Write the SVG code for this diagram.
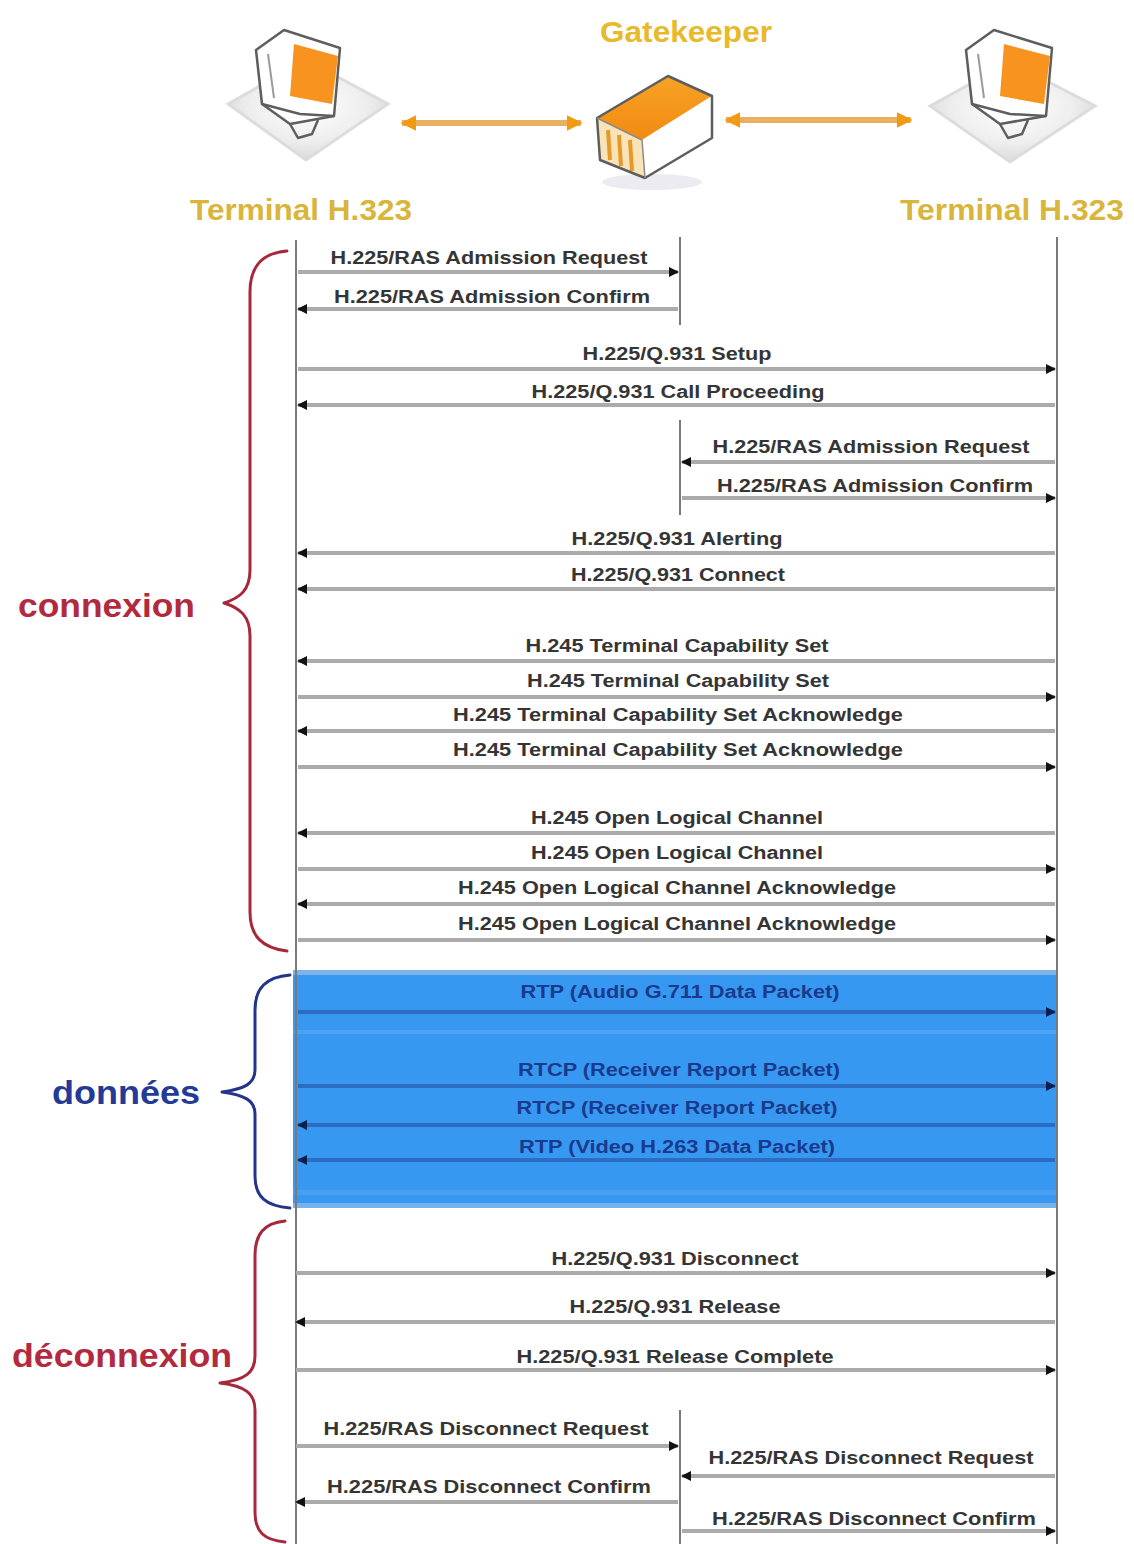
<svg xmlns="http://www.w3.org/2000/svg" width="1134" height="1544" viewBox="0 0 1134 1544">
  <style>
    .life { stroke: #7a7a7a; stroke-width: 2; fill: none; }
    .msg { stroke: #ababab; stroke-width: 4; fill: none; marker-end: url(#head); }
    .data { stroke: #2c6cc2; stroke-width: 4; fill: none; marker-end: url(#headBlue); }
    .lbl { font-family: "Liberation Sans", Arial, sans-serif; font-weight: bold; font-size: 18px; fill: #353535; text-anchor: middle; }
    .dlbl { font-family: "Liberation Sans", Arial, sans-serif; font-weight: bold; font-size: 18px; fill: #1a3a8c; text-anchor: middle; }
    .title { font-family: "Liberation Sans Narrow", "Liberation Sans", Arial, sans-serif; font-weight: bold; font-size: 30px; text-anchor: middle; }
    .phase { font-family: "Liberation Sans", Arial, sans-serif; font-weight: bold; font-size: 33px; }
    .brace { fill: none; stroke-width: 3; stroke-linecap: round; stroke-linejoin: round; }
    .outline { stroke: #5e5e5e; stroke-width: 2.5; stroke-linejoin: round; }
  </style>
  <defs>
    <marker id="head" viewBox="0 0 10 10" refX="9" refY="5" markerWidth="10" markerHeight="10" markerUnits="userSpaceOnUse" orient="auto">
      <path d="M0,0 L10,5 L0,10 z" fill="#111"/>
    </marker>
    <marker id="headBlue" viewBox="0 0 10 10" refX="9" refY="5" markerWidth="10" markerHeight="10" markerUnits="userSpaceOnUse" orient="auto">
      <path d="M0,0 L10,5 L0,10 z" fill="#0c1f4f"/>
    </marker>
    <marker id="orangeHead" viewBox="0 0 10 10" refX="9" refY="5" markerWidth="16" markerHeight="18" markerUnits="userSpaceOnUse" orient="auto-start-reverse">
      <path d="M0,0 L10,5 L0,10 z" fill="#f29a12"/>
    </marker>
    <radialGradient id="baseShade" cx="0.5" cy="0.45" r="0.6">
      <stop offset="0" stop-color="#ffffff"/>
      <stop offset="0.6" stop-color="#eeeeee"/>
      <stop offset="1" stop-color="#d6d6d6"/>
    </radialGradient>
    <linearGradient id="boxTop" x1="0" y1="0" x2="0" y2="1">
      <stop offset="0" stop-color="#f7a326"/>
      <stop offset="1" stop-color="#f28a10"/>
    </linearGradient>
  </defs>

  <rect width="1134" height="1544" fill="#ffffff"/>

  <!-- left H.323 terminal -->
  <g id="terminal-left">
    <polygon points="228,104 306,60 388,104 306,160" fill="url(#baseShade)" stroke="#dcdcdc" stroke-width="3"/>
    <polygon points="256,50 284,30 340,48 334,116 290,124 262,104" fill="#ffffff" class="outline"/>
    <polygon points="294,44 338,56 332,104 290,96" fill="#f7931e"/>
    <polyline points="262,104 300,114 334,116" fill="none" class="outline"/>
    <polyline points="290,124 298,138 312,134 318,120" fill="none" class="outline"/>
    <line x1="268" y1="54" x2="274" y2="98" stroke="#9a9a9a" stroke-width="2"/>
    <text class="title" x="301" y="220" fill="#d9b53c" textLength="222" lengthAdjust="spacingAndGlyphs">Terminal H.323</text>
  </g>

  <!-- gatekeeper -->
  <g id="gatekeeper">
    <ellipse cx="652" cy="182" rx="50" ry="8" fill="#e6e6ee" opacity="0.8"/>
    <polygon points="597,118 668,76 712,96 642,140" fill="url(#boxTop)"/>
    <polygon points="597,118 642,140 645,178 600,160" fill="#fbe3b8"/>
    <line x1="608" y1="130" x2="610" y2="160" stroke="#e39a2a" stroke-width="4"/>
    <line x1="619" y1="135" x2="621" y2="166" stroke="#e39a2a" stroke-width="4"/>
    <line x1="630" y1="140" x2="632" y2="171" stroke="#e39a2a" stroke-width="4"/>
    <polygon points="642,140 712,96 712,138 645,178" fill="#ffffff"/>
    <polygon points="597,118 668,76 712,96 712,138 645,178 600,160" fill="none" class="outline"/>
    <polyline points="597,118 642,140 645,178" fill="none" stroke="#8a8a8a" stroke-width="1.5"/>
    <text class="title" x="686" y="42" fill="#e8b92a" textLength="172" lengthAdjust="spacingAndGlyphs">Gatekeeper</text>
  </g>

  <!-- right H.323 terminal -->
  <g id="terminal-right">
    <polygon points="930,106 1010,62 1095,106 1010,162" fill="url(#baseShade)" stroke="#dcdcdc" stroke-width="3"/>
    <polygon points="966,50 994,30 1052,48 1046,116 1000,124 972,104" fill="#ffffff" class="outline"/>
    <polygon points="1004,44 1050,56 1044,104 1000,96" fill="#f7931e"/>
    <polyline points="972,104 1010,114 1046,116" fill="none" class="outline"/>
    <polyline points="1000,124 1008,138 1022,134 1028,120" fill="none" class="outline"/>
    <line x1="978" y1="54" x2="984" y2="98" stroke="#9a9a9a" stroke-width="2"/>
    <text class="title" x="1012" y="220" fill="#d9b53c" textLength="224" lengthAdjust="spacingAndGlyphs">Terminal H.323</text>
  </g>

  <!-- device links -->
  <g id="links">
    <line x1="402" y1="123" x2="581" y2="123" stroke="#eab060" stroke-width="6" marker-start="url(#orangeHead)" marker-end="url(#orangeHead)"/>
    <line x1="726" y1="120" x2="911" y2="120" stroke="#eab060" stroke-width="6" marker-start="url(#orangeHead)" marker-end="url(#orangeHead)"/>
  </g>

  <!-- data phase band -->
  <g id="data-band">
    <rect x="293" y="970" width="764" height="238" fill="#3798f2"/>
    <rect x="293" y="970" width="764" height="5" fill="#7db3ea"/>
    <rect x="293" y="1030" width="764" height="4" fill="#4aa2f0"/>
    <rect x="293" y="1190" width="764" height="5" fill="#4a9ef0"/>
    <rect x="293" y="1203" width="764" height="5" fill="#79b0ea"/>
  </g>

  <!-- lifelines -->
  <g id="lifelines">
    <line class="life" x1="296" y1="240" x2="296" y2="1544"/>
    <line class="life" x1="1057" y1="237" x2="1057" y2="1544"/>
    <line class="life" x1="680" y1="237" x2="680" y2="325"/>
    <line class="life" x1="680" y1="420" x2="680" y2="515"/>
    <line class="life" x1="680" y1="1410" x2="680" y2="1544"/>
  </g>

  <!-- messages -->
  <g id="connectors">
    <line class="msg" x1="298" y1="272" x2="678" y2="272"/>
    <line class="msg" x1="678" y1="309" x2="298" y2="309"/>
    <line class="msg" x1="298" y1="369" x2="1055" y2="369"/>
    <line class="msg" x1="1055" y1="405" x2="298" y2="405"/>
    <line class="msg" x1="1055" y1="462" x2="682" y2="462"/>
    <line class="msg" x1="682" y1="498" x2="1055" y2="498"/>
    <line class="msg" x1="1055" y1="553" x2="298" y2="553"/>
    <line class="msg" x1="1055" y1="589" x2="298" y2="589"/>
    <line class="msg" x1="1055" y1="661" x2="298" y2="661"/>
    <line class="msg" x1="298" y1="697" x2="1055" y2="697"/>
    <line class="msg" x1="1055" y1="731" x2="298" y2="731"/>
    <line class="msg" x1="298" y1="767" x2="1055" y2="767"/>
    <line class="msg" x1="1055" y1="833" x2="298" y2="833"/>
    <line class="msg" x1="298" y1="869" x2="1055" y2="869"/>
    <line class="msg" x1="1055" y1="904" x2="298" y2="904"/>
    <line class="msg" x1="298" y1="940" x2="1055" y2="940"/>
    <line class="data" x1="298" y1="1012" x2="1055" y2="1012"/>
    <line class="data" x1="298" y1="1086" x2="1055" y2="1086"/>
    <line class="data" x1="1055" y1="1125" x2="298" y2="1125"/>
    <line class="data" x1="1055" y1="1160" x2="298" y2="1160"/>
    <line class="msg" x1="296" y1="1273" x2="1055" y2="1273"/>
    <line class="msg" x1="1055" y1="1322" x2="296" y2="1322"/>
    <line class="msg" x1="296" y1="1370" x2="1055" y2="1370"/>
    <line class="msg" x1="296" y1="1446" x2="678" y2="1446"/>
    <line class="msg" x1="1055" y1="1476" x2="682" y2="1476"/>
    <line class="msg" x1="678" y1="1502" x2="296" y2="1502"/>
    <line class="msg" x1="682" y1="1531" x2="1055" y2="1531"/>
  </g>

  <!-- message labels -->
  <g id="labels">
    <text class="lbl" x="489" y="264" textLength="317" lengthAdjust="spacingAndGlyphs">H.225/RAS Admission Request</text>
    <text class="lbl" x="492" y="303" textLength="316" lengthAdjust="spacingAndGlyphs">H.225/RAS Admission Confirm</text>
    <text class="lbl" x="677" y="360" textLength="189" lengthAdjust="spacingAndGlyphs">H.225/Q.931 Setup</text>
    <text class="lbl" x="678" y="398" textLength="293" lengthAdjust="spacingAndGlyphs">H.225/Q.931 Call Proceeding</text>
    <text class="lbl" x="871" y="453" textLength="317" lengthAdjust="spacingAndGlyphs">H.225/RAS Admission Request</text>
    <text class="lbl" x="875" y="492" textLength="316" lengthAdjust="spacingAndGlyphs">H.225/RAS Admission Confirm</text>
    <text class="lbl" x="677" y="545" textLength="211" lengthAdjust="spacingAndGlyphs">H.225/Q.931 Alerting</text>
    <text class="lbl" x="678" y="581" textLength="214" lengthAdjust="spacingAndGlyphs">H.225/Q.931 Connect</text>
    <text class="lbl" x="677" y="652" textLength="303" lengthAdjust="spacingAndGlyphs">H.245 Terminal Capability Set</text>
    <text class="lbl" x="678" y="687" textLength="302" lengthAdjust="spacingAndGlyphs">H.245 Terminal Capability Set</text>
    <text class="lbl" x="678" y="721" textLength="450" lengthAdjust="spacingAndGlyphs">H.245 Terminal Capability Set Acknowledge</text>
    <text class="lbl" x="678" y="756" textLength="450" lengthAdjust="spacingAndGlyphs">H.245 Terminal Capability Set Acknowledge</text>
    <text class="lbl" x="677" y="824" textLength="292" lengthAdjust="spacingAndGlyphs">H.245 Open Logical Channel</text>
    <text class="lbl" x="677" y="859" textLength="292" lengthAdjust="spacingAndGlyphs">H.245 Open Logical Channel</text>
    <text class="lbl" x="677" y="894" textLength="438" lengthAdjust="spacingAndGlyphs">H.245 Open Logical Channel Acknowledge</text>
    <text class="lbl" x="677" y="930" textLength="438" lengthAdjust="spacingAndGlyphs">H.245 Open Logical Channel Acknowledge</text>
    <text class="dlbl" x="680" y="998" textLength="319" lengthAdjust="spacingAndGlyphs">RTP (Audio G.711 Data Packet)</text>
    <text class="dlbl" x="679" y="1076" textLength="322" lengthAdjust="spacingAndGlyphs">RTCP (Receiver Report Packet)</text>
    <text class="dlbl" x="677" y="1114" textLength="321" lengthAdjust="spacingAndGlyphs">RTCP (Receiver Report Packet)</text>
    <text class="dlbl" x="677" y="1153" textLength="316" lengthAdjust="spacingAndGlyphs">RTP (Video H.263 Data Packet)</text>
    <text class="lbl" x="675" y="1265" textLength="247" lengthAdjust="spacingAndGlyphs">H.225/Q.931 Disconnect</text>
    <text class="lbl" x="675" y="1313" textLength="211" lengthAdjust="spacingAndGlyphs">H.225/Q.931 Release</text>
    <text class="lbl" x="675" y="1363" textLength="317" lengthAdjust="spacingAndGlyphs">H.225/Q.931 Release Complete</text>
    <text class="lbl" x="486" y="1435" textLength="325" lengthAdjust="spacingAndGlyphs">H.225/RAS Disconnect Request</text>
    <text class="lbl" x="871" y="1464" textLength="325" lengthAdjust="spacingAndGlyphs">H.225/RAS Disconnect Request</text>
    <text class="lbl" x="489" y="1493" textLength="324" lengthAdjust="spacingAndGlyphs">H.225/RAS Disconnect Confirm</text>
    <text class="lbl" x="874" y="1525" textLength="324" lengthAdjust="spacingAndGlyphs">H.225/RAS Disconnect Confirm</text>
  </g>

  <!-- phase braces -->
  <g id="phase-connexion">
    <path class="brace" stroke="#a8283b" d="M287,251 C262,253 250,266 250,292 L250,570 C250,590 240,598 224,603 C240,608 250,616 250,636 L250,912 C250,936 262,948 287,951"/>
    <text class="phase" x="18" y="617" fill="#b32a3f" textLength="177" lengthAdjust="spacingAndGlyphs">connexion</text>
  </g>
  <g id="phase-donnees">
    <path class="brace" stroke="#24348a" d="M290,975 C266,977 255,988 255,1010 L255,1070 C255,1084 244,1089 222,1092 C244,1095 255,1100 255,1114 L255,1176 C255,1197 266,1206 290,1208"/>
    <text class="phase" x="52" y="1104" fill="#233a96" textLength="148" lengthAdjust="spacingAndGlyphs">données</text>
  </g>
  <g id="phase-deconnexion">
    <path class="brace" stroke="#a8283b" d="M285,1221 C264,1223 255,1234 255,1256 L255,1356 C255,1372 246,1380 220,1383 C246,1386 255,1394 255,1410 L255,1512 C255,1532 264,1540 285,1542"/>
    <text class="phase" x="12" y="1367" fill="#b32a3f" textLength="220" lengthAdjust="spacingAndGlyphs">déconnexion</text>
  </g>
</svg>
